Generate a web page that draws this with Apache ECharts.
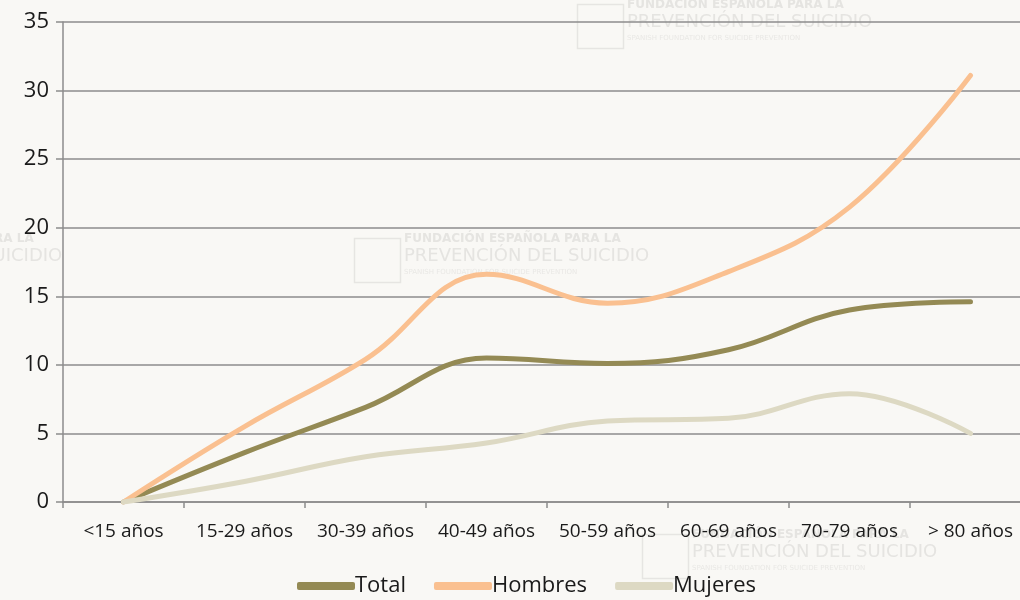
<!DOCTYPE html>
<html><head><meta charset="utf-8">
<script src="https://cdn.jsdelivr.net/npm/echarts@6/dist/echarts.min.js"></script>
<style>html,body{margin:0;padding:0;background:#f9f8f5;overflow:hidden}#c{width:1031px;height:600px}</style>
</head><body><div id="c"></div>
<script>
const categories = ['<15 años','15-29 años','30-39 años','40-49 años','50-59 años','60-69 años','70-79 años','> 80 años'];
const total = [0, 3.6, 6.9, 10.5, 10.1, 11.1, 14.0, 14.6];
const hombres = [0, 5.5, 10.4, 16.6, 14.5, 16.8, 21.5, 31.1];
const mujeres = [0, 1.5, 3.3, 4.3, 5.9, 6.1, 7.9, 5.0];
const yTicks = {min: 0, max: 35, interval: 5};

const wm = (x, y) => ([
  {type:'rect', left:x, top:y+4, shape:{width:46, height:44}, style:{fill:'none', stroke:'#e6e5e2', lineWidth:1.5}, z:0},
  {type:'text', left:x+52, top:y+1, style:{text:'FUNDACIÓN ESPAÑOLA PARA LA', fill:'#e5e4e1', font:'bold 12px "DejaVu Sans"', letterSpacing:1.5}, z:0},
  {type:'text', left:x+52, top:y+15, style:{text:'PREVENCIÓN DEL SUICIDIO', fill:'#e5e4e1', font:'18px "DejaVu Sans"', letterSpacing:1}, z:0},
  {type:'text', left:x+52, top:y+37, style:{text:'SPANISH FOUNDATION FOR SUICIDE PREVENTION', fill:'#e9e8e5', font:'7px "DejaVu Sans"', letterSpacing:0.5}, z:0}
]);

const chart = echarts.init(document.getElementById('c'));
const lineSeries = (name, data, color) => ({
  name, type:'line', data, smooth:0.4, symbol:'none',
  lineStyle:{color, width:5, cap:'round', join:'round'}, itemStyle:{color}, z:3
});
chart.setOption({
  backgroundColor:'#f9f8f5',
  animation:false,
  graphic: [].concat(wm(575,-2), wm(352,232), wm(640,528), wm(-235,232)),
  grid:{left:63, top:22, right:0, height:480, containLabel:false},
  legend:{
    top:570, left:292,
    icon:'roundRect', itemWidth:58, itemHeight:8, itemGap:28,
    textStyle:{fontFamily:'Open Sans', fontSize:22, color:'#1a1a1a', padding:[0,0,0,-5]},
    data:['Total','Hombres','Mujeres']
  },
  xAxis:{
    type:'category', data:categories, boundaryGap:true,
    axisLine:{lineStyle:{color:'#8c8c8c', width:1.5}},
    axisTick:{show:true, length:6, lineStyle:{color:'#8c8c8c', width:1.5}},
    axisLabel:{fontFamily:'Open Sans', fontSize:19, color:'#1a1a1a', margin:20, interval:0}
  },
  yAxis:{
    type:'value', min:yTicks.min, max:yTicks.max, interval:yTicks.interval,
    axisLine:{show:true, lineStyle:{color:'#8c8c8c', width:1.5}},
    axisTick:{show:true, length:7, lineStyle:{color:'#8c8c8c', width:1.5}},
    splitLine:{lineStyle:{color:'#8c8c8c', width:1.5}},
    axisLabel:{fontFamily:'Open Sans', fontSize:22, color:'#1a1a1a', margin:14}
  },
  series:[
    lineSeries('Total', total, '#948a54'),
    lineSeries('Hombres', hombres, '#fac090'),
    lineSeries('Mujeres', mujeres, '#ddd9c3')
  ]
});
</script></body></html>
